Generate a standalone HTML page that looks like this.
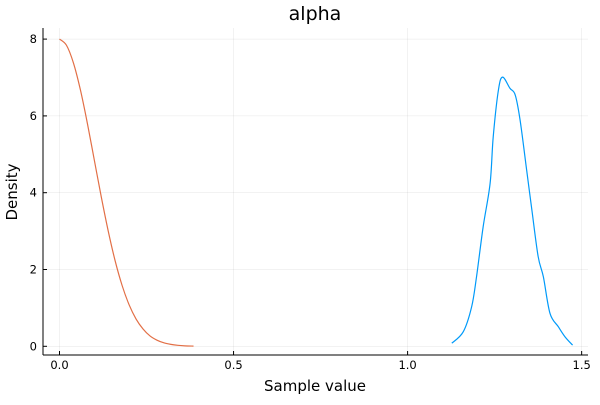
<!DOCTYPE html>
<html><head><meta charset="utf-8"><style>
body{margin:0;background:#fff;font-family:"Liberation Sans","DejaVu Sans",sans-serif}
svg text{font-family:"DejaVu Sans","Liberation Sans",sans-serif}
</style></head><body>
<svg id="chart" width="600" height="400" xmlns="http://www.w3.org/2000/svg">
<g id="grid"></g>
<g id="axes"></g>
<g id="series"></g>
<text x="315" y="20" text-anchor="middle" font-size="19" fill="#000">alpha</text>
<text x="315" y="391" text-anchor="middle" font-size="15" fill="#000">Sample value</text>
<text transform="translate(17,192) rotate(-90)" text-anchor="middle" font-size="15" fill="#000">Density</text>
</svg>
<script>
const xTicks=[0,0.5,1.0,1.5];
const xTickLabels=["0.0","0.5","1.0","1.5"];
const yTicks=[0,2,4,6,8];
const yTickLabels=["0","2","4","6","8"];
const priorX=[0,0.02,0.04,0.06,0.08,0.10,0.12,0.14,0.16,0.18,0.20,0.22,0.24,0.26,0.28,0.30,0.32,0.34,0.36,0.385];
const priorY=[8,7.84,7.38,6.68,5.81,4.85,3.89,3.00,2.22,1.58,1.08,0.71,0.45,0.27,0.16,0.09,0.05,0.025,0.012,0.005];
const postX=[1.127,1.160,1.184,1.198,1.217,1.237,1.246,1.261,1.273,1.294,1.309,1.323,1.342,1.357,1.375,1.390,1.409,1.433,1.452,1.474];
const postY=[0.08,0.38,1.03,1.81,3.11,4.24,5.46,6.68,7.01,6.72,6.55,5.90,4.59,3.55,2.34,1.81,0.86,0.51,0.25,0.03];

const L=43,R=588,T=28,B=355;
const xs=v=>59.5+v*348.1;
const ys=v=>346.3-v*38.4;
const NS="http://www.w3.org/2000/svg";
function mk(tag,attrs,parent){const e=document.createElementNS(NS,tag);for(const k in attrs)e.setAttribute(k,attrs[k]);parent.appendChild(e);return e;}
const grid=document.getElementById('grid'),axes=document.getElementById('axes'),series=document.getElementById('series');
xTicks.forEach((t,i)=>{
  const g=mk('line',{x1:xs(t),x2:xs(t),y1:T,y2:B,stroke:'#000','stroke-opacity':0.1,'stroke-width':0.5},grid);
  
  
  const tk=mk('line',{x1:xs(t),x2:xs(t),y1:B,y2:B-4,stroke:'#000','stroke-width':1},axes);
  
  
  const tx=mk('text',{x:xs(t),y:B+14,'text-anchor':'middle','font-size':11.5,fill:'#000'},axes);
  tx.textContent=xTickLabels[i];
  
  
});
yTicks.forEach((t,i)=>{
  const g=mk('line',{x1:L,x2:R,y1:ys(t),y2:ys(t),stroke:'#000','stroke-opacity':0.1,'stroke-width':0.5},grid);
  
  
  const tk=mk('line',{x1:L,x2:L+4,y1:ys(t),y2:ys(t),stroke:'#000','stroke-width':1},axes);
  
  
  const tx=mk('text',{x:L-6,y:ys(t)+4,'text-anchor':'end','font-size':11.5,fill:'#000'},axes);
  tx.textContent=yTickLabels[i];
  
  
});
const xa=mk('line',{x1:L,x2:R,y1:B,y2:B,stroke:'#000','stroke-width':1},axes);


const ya=mk('line',{x1:L,x2:L,y1:T,y2:B,stroke:'#000','stroke-width':1},axes);


function smooth(X,Y){
  const p=X.map((x,i)=>[xs(x),ys(Y[i])]);
  let d='M'+p[0][0]+','+p[0][1];
  for(let i=0;i<p.length-1;i++){
    const p0=p[i-1]||p[i],p1=p[i],p2=p[i+1],p3=p[i+2]||p2;
    const c1=[p1[0]+(p2[0]-p0[0])/6,p1[1]+(p2[1]-p0[1])/6];
    const c2=[p2[0]-(p3[0]-p1[0])/6,p2[1]-(p3[1]-p1[1])/6];
    d+=' C'+c1+' '+c2+' '+p2;
  }
  return d;
}
const pr=mk('path',{d:smooth(priorX,priorY),fill:'none',stroke:'#e26f46','stroke-width':1.2},series);


const po=mk('path',{d:smooth(postX,postY),fill:'none',stroke:'#009af9','stroke-width':1.2},series);


</script>
</body></html>
